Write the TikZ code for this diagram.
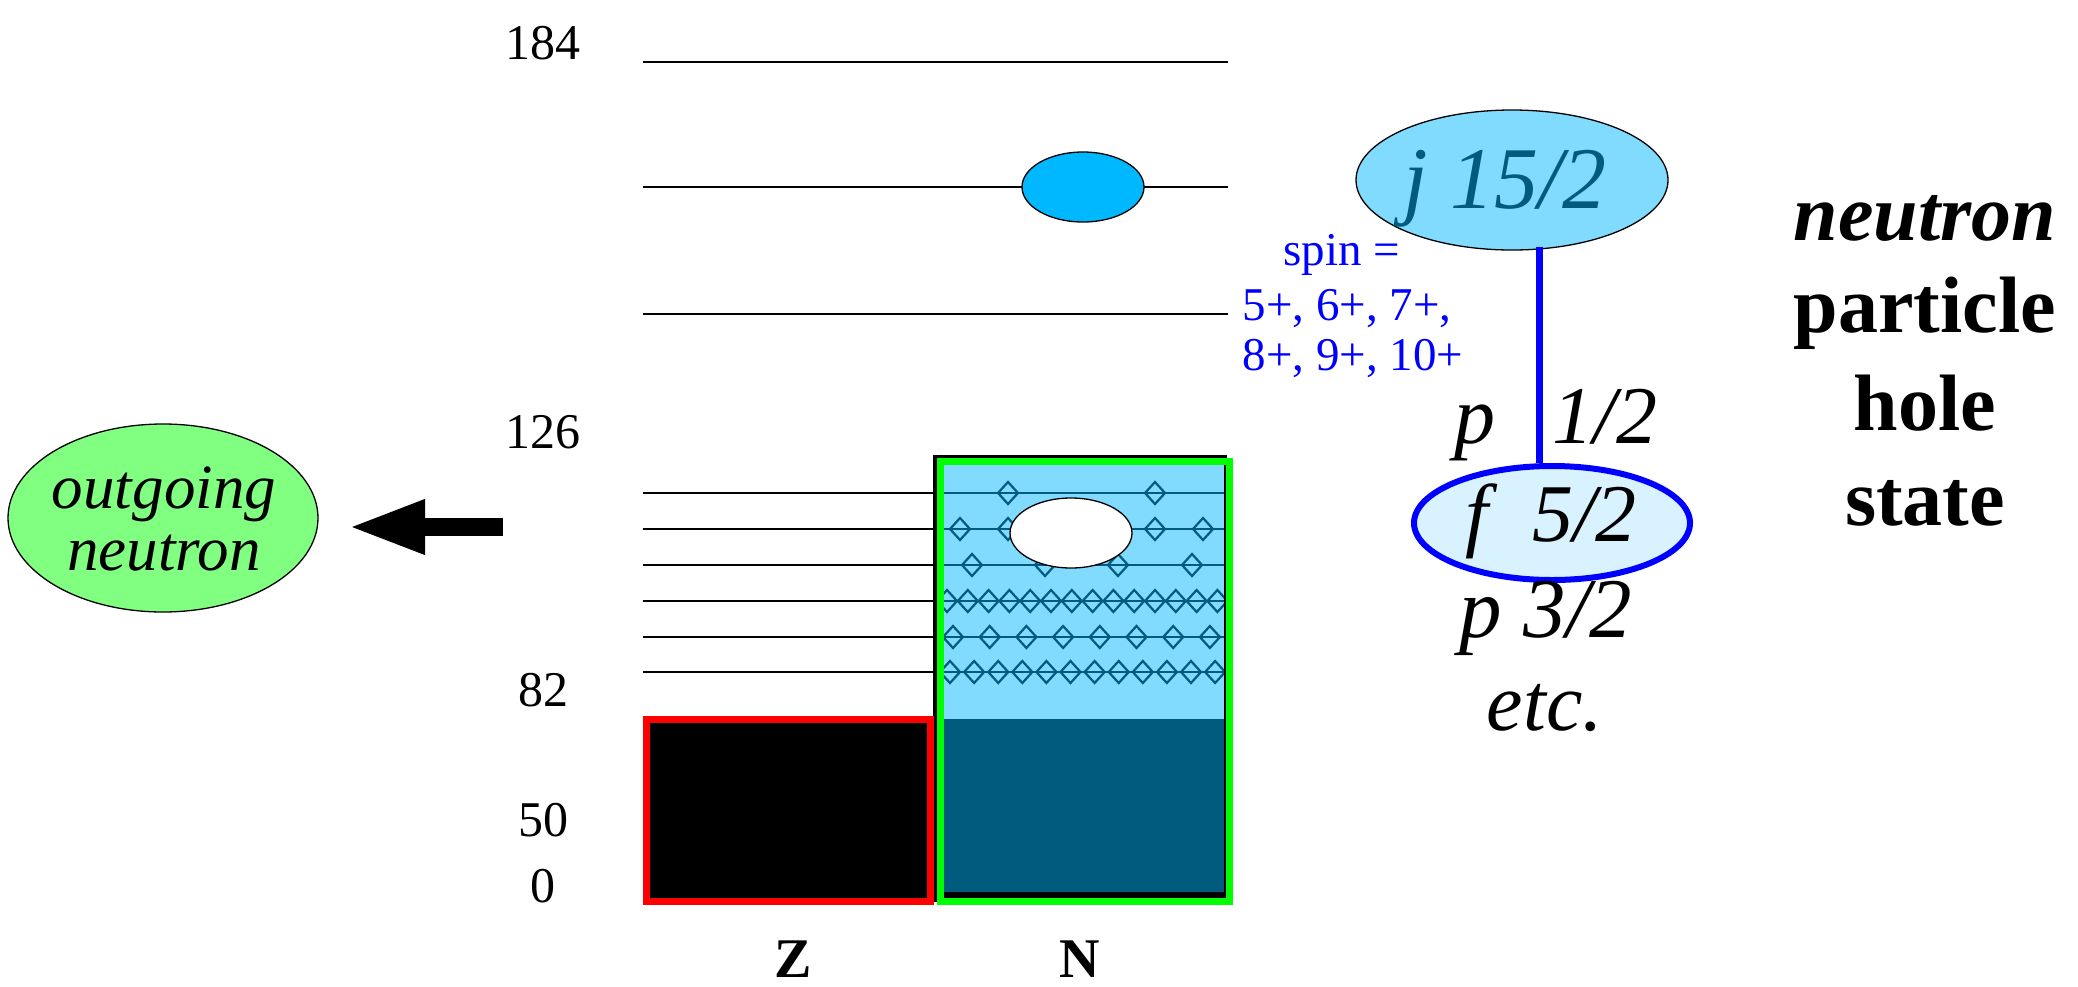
\documentclass[tikz,border=0pt]{standalone}
\usepackage{fontspec}
\setmainfont{Liberation Serif}
\usetikzlibrary{shapes.geometric,arrows.meta}
\definecolor{lightblue}{RGB}{128,219,255}
\definecolor{deepteal}{RGB}{0,91,127}
\definecolor{skyblue}{RGB}{0,184,255}
\definecolor{paleblue}{RGB}{217,242,255}
\definecolor{palegreen}{RGB}{128,255,128}
\definecolor{brightgreen}{RGB}{0,255,0}
\definecolor{spinblue}{RGB}{0,0,255}
\tikzset{
  level/.style={draw=black,line width=2.2},
  inlevel/.style={draw=deepteal,line width=2.5},
  dia/.style={draw=deepteal,line width=2.2},
  num/.style={anchor=base,inner sep=0,font=\fontsize{50}{60}\selectfont},
  axis/.style={anchor=base,inner sep=0,font=\fontsize{56}{60}\selectfont\bfseries},
  orb/.style={anchor=base,inner sep=0,font=\fontsize{82}{90}\selectfont\itshape},
  spintxt/.style={anchor=base,inner sep=0,text=spinblue,font=\fontsize{47}{52}\selectfont},
  title/.style={anchor=base,inner sep=0,font=\fontsize{80}{95}\selectfont\bfseries},
  oval/.style={ellipse,inner sep=0,draw=black,line width=1.3},
}
\begin{document}
\begin{tikzpicture}[x=1pt,y=-1pt]
\useasboundingbox (0,0) rectangle (2078,986);
% upper levels
\draw[level] (643,62) -- (1228,62);
\draw[level] (643,187) -- (1228,187);
\draw[level] (643,314) -- (1228,314);
\node[oval,fill=skyblue,minimum width=122,minimum height=70] (part) at (1083,187) {};
% labels
\node[num] (l184) at (543,59) {184};
\node[num] (l126) at (543,448) {126};
\node[num] (l82) at (543,706) {82};
\node[num] (l50) at (543,836) {50};
\node[num] (l0) at (543,902) {0};
\node[axis] (lz) at (793,977) {Z};
\node[axis] (ln) at (1080,977) {N};
% lower levels (outside box)
\foreach \y in {493,529,565,601,637,672} \draw[level] (643,\y) -- (937,\y);
% N box
\fill[black] (933,455) rectangle (1227,902);
\fill[lightblue] (943,463) rectangle (1224,719);
\fill[deepteal] (943,719) rectangle (1224,892);
\begin{scope}
\clip (943,463) rectangle (1224,719);
\foreach \y in {493,529,565,601,637,672} \draw[inlevel] (943,\y) -- (1224,\y);
\foreach \x/\y in {1008/493,1155/493,960/529,1008/529,1155/529,1203/529,972/565,1045/565,1118/565,1192/565}
  \draw[dia] (\x,\y) +(-10,0) -- +(0,-11) -- +(10,0) -- +(0,11) -- cycle;
\foreach \k in {0,...,13} \draw[dia] ({947+20.8*\k},601) +(-10,0) -- +(0,-11) -- +(10,0) -- +(0,11) -- cycle;
\foreach \k in {0,...,7} \draw[dia] ({953+36.7*\k},637) +(-10,0) -- +(0,-11) -- +(10,0) -- +(0,11) -- cycle;
\foreach \k in {0,...,11} \draw[dia] ({950+24.1*\k},672) +(-10,0) -- +(0,-11) -- +(10,0) -- +(0,11) -- cycle;
\end{scope}
\node[oval,fill=white,minimum width=122,minimum height=70] (hole) at (1071,533) {};
\draw[brightgreen,line width=7] (940.5,461.5) rectangle (1229.5,901.5);
% Z box
\draw[red,line width=7,fill=black] (646.5,719.5) rectangle (930,901.5);
% outgoing neutron
\node[oval,fill=palegreen,minimum width=310,minimum height=188] (out) at (163,518) {};
\node[anchor=base,inner sep=0,font=\fontsize{63}{62}\selectfont\itshape] (out1) at (164,508) {outgoing};
\node[anchor=base,inner sep=0,font=\fontsize{63}{62}\selectfont\itshape] (out2) at (164,570) {neutron};
\coordinate (atail) at (503,527);
\coordinate (atip) at (348,527);
\draw[line width=18,-{Triangle[length=77pt,width=50pt]}] (atail) -- (atip);
% right side
\node[oval,fill=lightblue,minimum width=312,minimum height=140] (j) at (1512,180) {};
\node[orb,text=deepteal,font=\fontsize{88}{90}\selectfont\itshape] (jt) at (1505,208) {j 15/2};
\node[ellipse,inner sep=0,draw=spinblue,line width=6,fill=paleblue,minimum width=276,minimum height=114] (f) at (1552,523) {};
\coordinate (jb) at (1539,247);
\draw[spinblue,line width=7] (jb) -- (jb |- f.north);
\node[orb] (p12) at (1556,443) {p\hspace{0.69em}1/2};
\node[orb] (f52) at (1551,541) {f\hspace{0.54em}5/2};
\node[orb,font=\fontsize{85}{90}\selectfont\itshape] (p32) at (1546,637) {p 3/2};
\node[orb] (etc) at (1545,730) {etc.};
% spin
\node[spintxt] (s1) at (1342,265) {spin =};
\node[spintxt] (s2) at (1347,320) {5+, 6+, 7+,};
\node[spintxt] (s3) at (1353,370) {8+, 9+, 10+};
% title
\node[title,font=\fontsize{80}{95}\selectfont\bfseries\itshape] (t1) at (1925,240) {neutron};
\node[title] (t2) at (1925,332) {particle};
\node[title] (t3) at (1925,430) {hole};
\node[title] (t4) at (1925,525) {state};
\end{tikzpicture}
\end{document}
